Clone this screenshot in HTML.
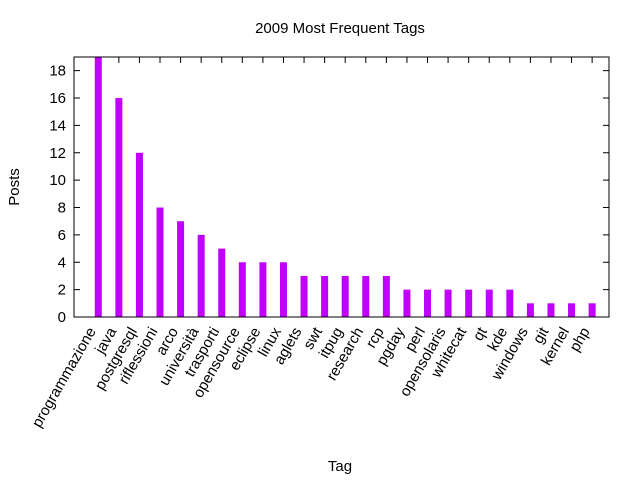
<!DOCTYPE html>
<html><head><meta charset="utf-8"><style>
body{margin:0;background:#fff}
svg text{font-family:"Liberation Sans",sans-serif;font-size:15px;fill:#000}
</style></head><body>
<svg id="c" width="640" height="480">
<text x="340" y="33" text-anchor="middle">2009 Most Frequent Tags</text>
<text x="340" y="471" text-anchor="middle">Tag</text>
<text transform="translate(19,187) rotate(-90)" text-anchor="middle">Posts</text>
<g id="g"></g>
<rect x="74" y="57" width="535" height="260" fill="none" stroke="#000" stroke-width="1"/>
</svg>
<script>
const categories=["programmazione","java","postgresql","riflessioni","arco","università","trasporti","opensource","eclipse","linux","aglets","swt","itpug","research","rcp","pgday","perl","opensolaris","whitecat","qt","kde","windows","git","kernel","php"];
const values=[19,16,12,8,7,6,5,4,4,4,3,3,3,3,3,2,2,2,2,2,2,1,1,1,1];
const yTicks=[0,2,4,6,8,10,12,14,16,18];
const L=74,R=609,T=57,B=317,xmin=-1.18,xmax=24.82,ymax=19;
const X=v=>L+(v-xmin)/(xmax-xmin)*(R-L);
const Y=v=>B-v/ymax*(B-T);
const g=document.getElementById('g');
const NS='http://www.w3.org/2000/svg';
function mk(t,a){const e=document.createElementNS(NS,t);for(const k in a)e.setAttribute(k,a[k]);g.appendChild(e);return e;}
yTicks.forEach(v=>{
 const y=Y(v);
 const l=mk('path',{d:`M${L} ${y}h6M${R} ${y}h-6`,stroke:'#000'});
 
 
 const t=mk('text',{x:L-8,y:y+5,'text-anchor':'end'});t.textContent=v;
 
 
});
categories.forEach((c,i)=>{
 const x=X(i);
 const tk=mk('path',{d:`M${x} ${B}v-6M${x} ${T}v6`,stroke:'#000'});
 
 
 const w=7;
 const b=mk('rect',{x:x-w/2,y:Y(values[i]),width:w,height:B-Y(values[i]),fill:'#c000ff'});
 
 
 const t=mk('text',{transform:`translate(${x-2},${B+14}) rotate(-60)`,'text-anchor':'end'});t.textContent=c;
 
 
});
</script>
</body></html>
